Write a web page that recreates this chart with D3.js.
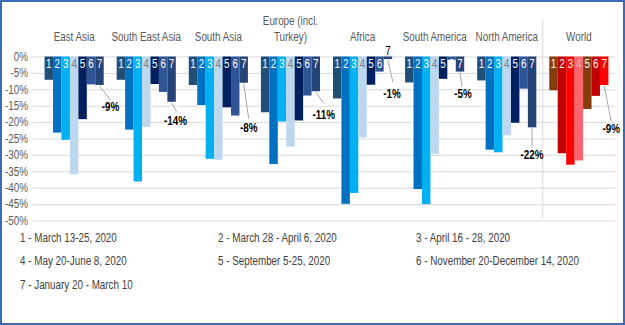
<!DOCTYPE html>
<html>
<head>
<meta charset="utf-8">
<script src="https://cdn.jsdelivr.net/npm/d3@7"></script>
<style>
  body { margin: 0; background: #fff; }
  svg text { font-family: "Liberation Sans", Arial, sans-serif; }
</style>
</head>
<body>
<div id="chart"></div>
<script>
// regiones y periodos
const regions = ["East Asia", "South East Asia", "South Asia", "Europe (incl.|Turkey)",
                 "Africa", "South America", "North America", "World"];
const periods = ["1", "2", "3", "4", "5", "6", "7"];

// valores (%) por region, periodos 1..7
const eastAsia      = [-7.1, -23.2, -25.4, -35.9, -19.1, -8.5, -8.7];
const southEastAsia = [-7.1, -22.3, -38.1, -21.5, -8.4, -10.8, -13.8];
const southAsia     = [-8.7, -14.8, -31.2, -31.5, -15.5, -18.0, -8.0];
const europe        = [-17.0, -32.8, -19.8, -27.5, -19.5, -11.9, -10.6];
const africa        = [-12.8, -44.9, -41.6, -24.7, -8.6, -4.6, -0.8];
const southAmerica  = [-7.9, -40.4, -45.0, -29.7, -6.8, -1.0, -4.6];
const northAmerica  = [-7.3, -28.4, -29.2, -24.0, -20.2, -9.8, -21.6];
const world         = [-10.3, -29.5, -33.0, -31.7, -16.0, -12.0, -8.7];
const values = [eastAsia, southEastAsia, southAsia, europe, africa, southAmerica, northAmerica, world];

const yTicks = [0, -5, -10, -15, -20, -25, -30, -35, -40, -45, -50];

const legendLabels = [
  "1 - March 13-25, 2020", "2 - March 28 - April 6, 2020", "3 - April 16 - 28, 2020",
  "4 - May 20-June 8, 2020", "5 - September 5-25, 2020", "6 - November 20-December 14, 2020",
  "7 - January 20 - March 10"
];

const blues = ["#1F4E79", "#0070C0", "#00B0F0", "#BDD7EE", "#002060", "#2F5597", "#264478"];
const reds  = ["#843C0C", "#C00000", "#FF0000", "#F9666E", "#843C0C", "#C00000", "#FF0000"];

// desplazamiento de las etiquetas del periodo 7 (linea guia y texto)
const leaderEnd = [[11, 15], [5, 10], [5, 36], [8, 12], [5, 23], [2, 15], [0, 20], [7, 36]];
const labelPos  = [[11, 22], [4, 19], [5, 45], [8, 24], [4, 35], [3, 22], [0, 27], [7, 44]];

const width = 625, height = 325;
const svg = d3.select("#chart").append("svg")
    .attr("width", width)
    .attr("height", height);

// marco azul
svg.append("rect")
    .attr("x", 1).attr("y", 1)
    .attr("width", width - 2).attr("height", height - 2)
    .attr("fill", "#fff")
    .attr("stroke", "#3A6BB5")
    .attr("stroke-width", 2);

const gridLeft = 33, gridRight = 615;

const x = d3.scaleBand()
    .domain(regions)
    .range([35, 618])
    .paddingInner(0.18)
    .paddingOuter(0.133);

const xInner = d3.scaleBand()
    .domain(periods)
    .range([0, x.bandwidth()]);

const y = d3.scaleLinear()
    .domain([-50, 0])
    .range([220.5, 56.5]);

// eje y con lineas de cuadricula
const yAxis = svg.append("g")
    .attr("transform", `translate(${gridLeft},0)`)
    .call(d3.axisLeft(y)
        .tickValues(yTicks)
        .tickSize(-(gridRight - gridLeft))
        .tickPadding(5)
        .tickFormat(d => d + "%"));
yAxis.select(".domain").remove();
yAxis.selectAll(".tick line").attr("stroke", "#D9D9D9");
yAxis.selectAll(".tick text")
    .attr("fill", "#595959")
    .style("font-size", "12px");

// separador de World
const sep = (x("North America") + x.bandwidth() + x("World")) / 2;
svg.append("line")
    .attr("x1", sep).attr("x2", sep)
    .attr("y1", 20).attr("y2", 218)
    .attr("stroke", "#D9D9D9");

// barras
const groups = svg.selectAll(".region")
    .data(regions)
    .enter()
    .append("g")
    .attr("class", "region")
    .attr("transform", d => `translate(${x(d)},0)`);

groups.selectAll("rect")
    .data((d, i) => values[i].map((v, j) => ({ v, j, world: d === "World" })))
    .enter()
    .append("rect")
    .attr("x", d => xInner(periods[d.j]))
    .attr("y", y(0))
    .attr("width", xInner.bandwidth())
    .attr("height", d => y(d.v) - y(0))
    .attr("fill", d => (d.world ? reds : blues)[d.j]);

// numeros de periodo dentro de las barras
groups.selectAll(".num")
    .data((d, i) => values[i].map((v, j) => ({ v, j, world: d === "World" })))
    .enter()
    .append("text")
    .attr("class", "num")
    .attr("x", d => xInner(periods[d.j]) + xInner.bandwidth() / 2)
    .attr("y", d => d.v > -2 && d.j === 6 ? y(0) - 6 : y(0) + 7)
    .attr("dy", "0.35em")
    .attr("text-anchor", "middle")
    .style("font-size", "12px")
    .attr("fill", d => {
        if (d.v > -2 && d.j === 6) return "#000";
        if (d.j === 3) return d.world ? "#E8B4B8" : "#7F7F7F";
        return "#fff";
    })
    .text(d => periods[d.j]);

// etiquetas del periodo 7 con linea guia
regions.forEach((r, i) => {
    const v = values[i][6];
    const cx = x(r) + xInner("7") + xInner.bandwidth() / 2;
    const by = y(v);
    svg.append("line")
        .attr("x1", cx).attr("y1", by + 1)
        .attr("x2", cx + leaderEnd[i][0]).attr("y2", by + leaderEnd[i][1])
        .attr("stroke", "#A6A6A6");
    svg.append("text")
        .attr("x", cx + labelPos[i][0])
        .attr("y", by + labelPos[i][1])
        .attr("dy", "0.35em")
        .attr("text-anchor", "middle")
        .style("font-size", "12px")
        .style("font-weight", "bold")
        .attr("fill", "#000")
        .text(Math.round(v) + "%");
});

// nombres de region
svg.selectAll(".cat")
    .data(regions)
    .enter()
    .append("text")
    .attr("class", "cat")
    .attr("x", d => x(d) + x.bandwidth() / 2)
    .attr("text-anchor", "middle")
    .attr("fill", "#595959")
    .style("font-size", "12px")
    .each(function(d) {
        const lines = d.split("|");
        d3.select(this).selectAll("tspan")
            .data(lines)
            .enter()
            .append("tspan")
            .attr("x", x(d) + x.bandwidth() / 2)
            .attr("y", (l, k) => 37 - (lines.length - 1 - k) * 16)
            .attr("dy", "0.35em")
            .text(l => l);
    });

// leyenda
const legendX = [20, 218, 416];
const legendY = [238, 261, 285];
svg.selectAll(".legend")
    .data(legendLabels)
    .enter()
    .append("text")
    .attr("class", "legend")
    .attr("x", (d, i) => legendX[i % 3])
    .attr("y", (d, i) => legendY[Math.floor(i / 3)])
    .attr("dy", "0.35em")
    .attr("fill", "#404040")
    .style("font-size", "12px")
    .text(d => d);

// texto estrecho (como Calibri): comprimir cada texto / tspan
svg.selectAll("text").each(function() {
    const t = d3.select(this);
    const spans = t.selectAll("tspan");
    const nodes = spans.empty() ? [this] : spans.nodes();
    nodes.forEach(n => {
        const len = n.getComputedTextLength();
        d3.select(n).attr("textLength", len * 0.82).attr("lengthAdjust", "spacingAndGlyphs");
    });
});
</script>
</body>
</html>
